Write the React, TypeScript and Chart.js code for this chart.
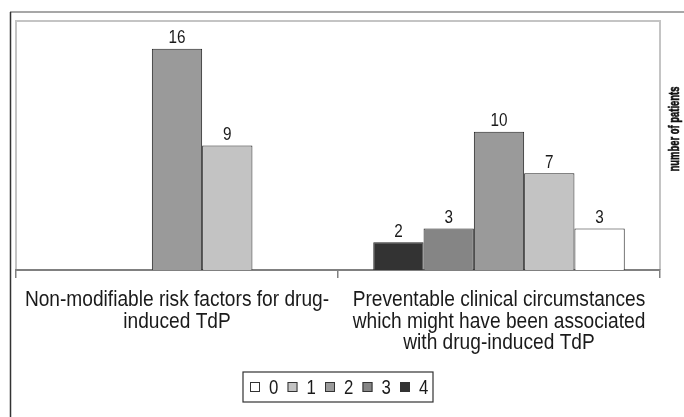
import React, { useEffect, useRef } from "react";
import { Chart, registerables } from "chart.js";

Chart.register(...registerables);

// ---- data ----
const categories: string[][] = [
  ["Non-modifiable risk factors for drug-", "induced TdP"],
  ["Preventable clinical circumstances", "which might have been associated", "with drug-induced TdP"],
];
const seriesNames = ["0", "1", "2", "3", "4"];
const series0: (number | null)[] = [null, 3];
const series1: (number | null)[] = [9, 7];
const series2: (number | null)[] = [16, 10];
const series3: (number | null)[] = [null, 3];
const series4: (number | null)[] = [null, 2];
const seriesColors = ["#ffffff", "#c3c3c3", "#9a9a9a", "#858585", "#333333"];
const yAxisTitle = "number of patients";
const yMax = 18;

const SANS = "'Liberation Sans', Arial, sans-serif";

function condensedText(ctx: any, text: string, x: number, y: number, font: string, sx: number, align: string, strokeW = 0) {
  ctx.save();
  ctx.font = font;
  ctx.translate(x, y);
  ctx.scale(sx, 1);
  ctx.textAlign = align;
  ctx.fillText(text, 0, 0);
  if (strokeW > 0) {
    ctx.strokeStyle = ctx.fillStyle;
    ctx.lineWidth = strokeW;
    ctx.strokeText(text, 0, 0);
  }
  ctx.restore();
}

const decorPlugin = {
  id: "decor",
  beforeDraw(chart: any) {
    const ctx = chart.ctx;
    const a = chart.chartArea;
    ctx.save();
    // outer frame
    ctx.strokeStyle = "#8a8a8a";
    ctx.lineWidth = 1.5;
    ctx.beginPath();
    ctx.moveTo(10, 12);
    ctx.lineTo(chart.width, 12);
    ctx.stroke();
    ctx.strokeStyle = "#333333";
    ctx.beginPath();
    ctx.moveTo(10.5, 12);
    ctx.lineTo(10.5, chart.height);
    ctx.stroke();
    // plot box
    ctx.strokeStyle = "#c4c4c4";
    ctx.lineWidth = 2;
    ctx.beginPath();
    ctx.moveTo(a.left, a.bottom);
    ctx.lineTo(a.left, a.top);
    ctx.lineTo(a.right, a.top);
    ctx.lineTo(a.right, a.bottom);
    ctx.stroke();
    ctx.restore();
  },
  afterDraw(chart: any) {
    const ctx = chart.ctx;
    const a = chart.chartArea;
    ctx.save();
    ctx.fillStyle = "#1a1a1a";
    ctx.textBaseline = "middle";
    // value labels
    chart.data.datasets.forEach((ds: any, di: number) => {
      const meta = chart.getDatasetMeta(di);
      meta.data.forEach((el: any, i: number) => {
        const v = ds.data[i];
        if (v === null || v === undefined) return;
        condensedText(ctx, String(v), el.x, el.y - 10.5, `18px ${SANS}`, 0.85, "center");
      });
    });
    // category labels
    const xs = chart.scales.x;
    categories.forEach((lines, i) => {
      const cx = xs.getPixelForValue(i);
      lines.forEach((ln, j) => {
        condensedText(ctx, ln, cx, 300 + j * 21.5, `22px ${SANS}`, 0.87, "center");
      });
    });
    // y axis title (right side, reading bottom to top)
    ctx.save();
    ctx.translate(675, 129);
    ctx.rotate(-Math.PI / 2);
    ctx.fillStyle = "#111";
    condensedText(ctx, yAxisTitle, 0, 0, `bold 15px ${SANS}`, 0.63, "center", 0.6);
    ctx.restore();

    // legend (order 0..4)
    const sq = 10;
    const gapText = 9;
    const pitch = 37.5;
    const digitW = 9;
    const padL = 7;
    const padR = 5;
    const total = pitch * (seriesNames.length - 1) + sq + gapText + digitW;
    const cxm = (a.left + a.right) / 2;
    const boxW = total + padL + padR;
    const boxL = cxm - boxW / 2;
    const boxT = 372;
    const boxH = 30;
    const cy = boxT + boxH / 2;
    ctx.strokeStyle = "#333";
    ctx.lineWidth = 1.2;
    ctx.strokeRect(boxL, boxT, boxW, boxH);
    seriesNames.forEach((n, i) => {
      const x = boxL + padL + i * pitch;
      ctx.fillStyle = seriesColors[i];
      ctx.fillRect(x, cy - sq / 2, sq, sq);
      ctx.strokeStyle = "#333";
      ctx.lineWidth = 1;
      ctx.strokeRect(x + 0.5, cy - sq / 2 + 0.5, sq - 1, sq - 1);
      ctx.fillStyle = "#1a1a1a";
      condensedText(ctx, n, x + sq + gapText, cy + 1, `21px ${SANS}`, 0.8, "left");
    });
    ctx.restore();
  },
};

export default function App() {
  const ref = useRef<HTMLCanvasElement | null>(null);
  useEffect(() => {
    document.body.style.margin = "0";
    if (!ref.current) return;
    const allSeries = [series0, series1, series2, series3, series4];
    const order = [4, 3, 2, 1, 0];
    const chart = new Chart(ref.current, {
      type: "bar",
      data: {
        labels: categories.map((c) => c.join(" ")),
        datasets: order.map((s) => ({
          label: seriesNames[s],
          data: allSeries[s],
          backgroundColor: seriesColors[s],
          borderColor: "#222222",
          borderWidth: 1,
          barPercentage: 1,
          categoryPercentage: 0.781,
        })),
      },
      options: {
        responsive: false,
        animation: false,
        devicePixelRatio: 1,
        layout: { padding: { left: 16, top: 21, right: 24, bottom: 0 } },
        plugins: { legend: { display: false }, tooltip: { enabled: false } },
        scales: {
          x: {
            grid: {
              offset: true,
              drawOnChartArea: false,
              drawTicks: true,
              tickLength: 8,
              color: "#808080",
              lineWidth: 1.5,
            },
            border: { display: true, color: "#808080", width: 2 },
            ticks: { display: false },
            afterFit: (s: any) => {
              s.height = 147;
            },
          },
          y: { display: false, min: 0, max: yMax },
        },
      },
      plugins: [decorPlugin],
    });
    return () => chart.destroy();
  }, []);
  return (
    <div style={{ width: 684, height: 417, position: "relative", background: "#fff" }}>
      <canvas ref={ref} width={684} height={417} style={{ display: "block" }} />
    </div>
  );
}
